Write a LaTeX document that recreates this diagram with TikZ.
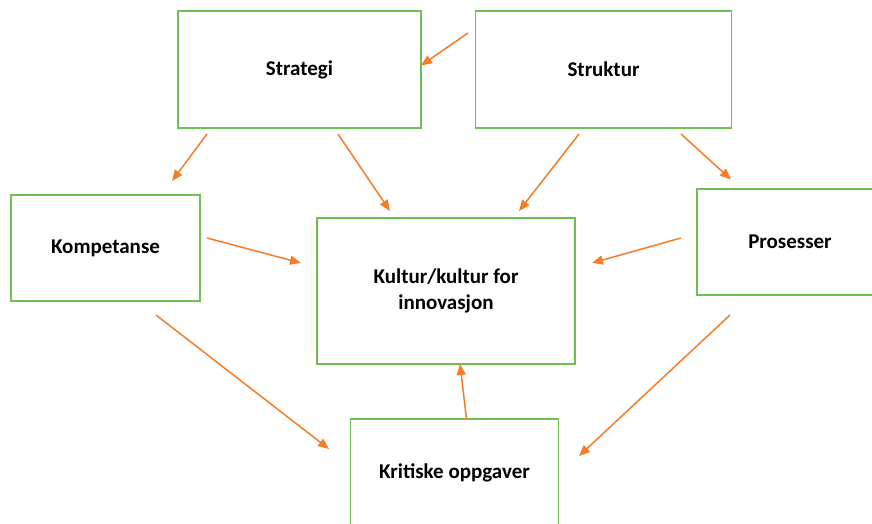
\documentclass[tikz,border=0pt]{standalone}
\usepackage{fontspec}
\setmainfont{Carlito}
\usetikzlibrary{arrows.meta}
\definecolor{boxgreen}{RGB}{108,192,84}
\definecolor{arrorange}{RGB}{244,125,40}
\tikzset{
  box/.style={draw=boxgreen, line width=1.5pt, fill=white, inner sep=0pt,
    font=\fontsize{21}{26}\selectfont\bfseries, align=center},
  flow/.style={draw=arrorange, line width=1.5pt,
    -{Triangle[length=11pt,width=9pt]}}
}
\begin{document}
\begin{tikzpicture}[x=1pt,y=-1pt]
  \useasboundingbox (0,0) rectangle (872,524);
  \clip (0,0) rectangle (872,524);
  \fill[white] (0,0) rectangle (872,524);

  % boxes
  \node[box, minimum width=243pt, minimum height=117pt] (strat) at (299.5,69.5) {Strategi};
  \node[box, minimum width=256pt, minimum height=117pt] (strukt) at (603.5,69.5) {Struktur};
  \node[box, minimum width=189pt, minimum height=106pt] (komp) at (105.5,248) {Kompetanse};
  \node[box, minimum width=186pt, minimum height=106pt] (pros) at (790,242) {Prosesser};
  \node[box, minimum width=258pt, minimum height=146pt] (kult) at (446,291) {Kultur/kultur for\\innovasjon};
  \node[box, minimum width=208pt, minimum height=108pt] (krit) at (454.5,473) {Kritiske oppgaver};

  % loose arrow ends
  \coordinate (a1s) at (468,33);    \coordinate (a1e) at (421,65.5);
  \coordinate (a2s) at (207,134);   \coordinate (a2e) at (172,181);
  \coordinate (a3s) at (338,134);   \coordinate (a3e) at (390,211);
  \coordinate (a4s) at (579,134);   \coordinate (a4e) at (519,211);
  \coordinate (a5s) at (681,134);   \coordinate (a5e) at (731,179.5);
  \coordinate (a6s) at (207,238);   \coordinate (a6e) at (301,263);
  \coordinate (a7s) at (681,238);   \coordinate (a7e) at (592,263);
  \coordinate (a8s) at (156,315);   \coordinate (a8e) at (329,449);
  \coordinate (a9s) at (466.5,419); \coordinate (a9e) at (460,364);
  \coordinate (a10s) at (730,315);  \coordinate (a10e) at (579,456);

  % connectors
  \draw[flow] (a1s) -- (a1e);
  \draw[flow] (a2s) -- (a2e);
  \draw[flow] (a3s) -- (a3e);
  \draw[flow] (a4s) -- (a4e);
  \draw[flow] (a5s) -- (a5e);
  \draw[flow] (a6s) -- (a6e);
  \draw[flow] (a7s) -- (a7e);
  \draw[flow] (a8s) -- (a8e);
  \draw[flow] (a9s) -- (a9e);
  \draw[flow] (a10s) -- (a10e);
\end{tikzpicture}
\end{document}
